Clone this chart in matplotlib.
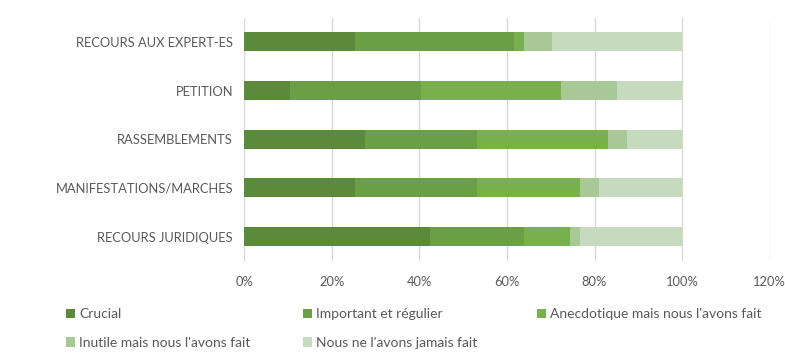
import matplotlib
matplotlib.use("Agg")
import matplotlib.pyplot as plt
from matplotlib.patches import Patch
import numpy as np

plt.rcParams['font.family'] = ['Lato', 'DejaVu Sans']

categories = ["RECOURS AUX EXPERT-ES", "PETITION", "RASSEMBLEMENTS",
              "MANIFESTATIONS/MARCHES", "RECOURS JURIDIQUES"]
series_names = ["Crucial", "Important et régulier", "Anecdotique mais nous l'avons fait",
                "Inutile mais nous l'avons fait", "Nous ne l'avons jamais fait"]
crucial     = [25.4, 10.5, 27.5, 25.4, 42.5]
important   = [36.3, 29.9, 25.7, 27.8, 21.3]
anecdotique = [2.1, 32.0, 29.8, 23.5, 10.6]
inutile     = [6.4, 12.7, 4.4, 4.2, 2.3]
jamais      = [29.8, 14.9, 12.6, 19.1, 23.3]
xticks = [0, 20, 40, 60, 80, 100, 120]
xtick_labels = ["0%", "20%", "40%", "60%", "80%", "100%", "120%"]

colors = ["#5b8a3a", "#6a9f46", "#77b04d", "#a8c896", "#c6dbbe"]
series = [crucial, important, anecdotique, inutile, jamais]

fig = plt.figure(figsize=(7.85, 3.59), dpi=100)
ax = fig.add_axes([0.311, 0.273, 0.6696, 0.678])

y = np.arange(len(categories))
left = np.zeros(len(categories))
handles = []
for name, vals, c in zip(series_names, series, colors):
    v = np.array(vals)
    ax.barh(y, v, left=left, height=0.39, color=c, edgecolor='none', zorder=3)
    left += v
    handles.append(Patch(facecolor=c, edgecolor='none', label=name))

ax.set_ylim(len(categories) - 0.5, -0.5)
ax.set_yticks(y)
ax.set_yticklabels(categories)
ax.set_xlim(0, 120)
ax.set_xticks(xticks)
ax.set_xticklabels(xtick_labels)
ax.grid(axis='x', color='#d9d9d9', linewidth=1, zorder=0)
for s in ax.spines.values():
    s.set_visible(False)
ax.tick_params(axis='both', length=0, labelsize=9.3, labelcolor='#595959')
ax.tick_params(axis='x', pad=11)
ax.tick_params(axis='y', pad=8)

# legend entries, row-major like the original
positions = [(0.084, 0.125), (0.386, 0.125), (0.684, 0.125),
             (0.084, 0.045), (0.386, 0.045)]
for h, (px, py) in zip(handles, positions):
    fig.legend(handles=[h], loc='center left', bbox_to_anchor=(px, py),
               frameon=False, fontsize=10, handlelength=0.65, handleheight=0.65,
               handletextpad=0.3, borderpad=0, borderaxespad=0,
               labelcolor='#595959')

fig.savefig("out.png", dpi=100)
